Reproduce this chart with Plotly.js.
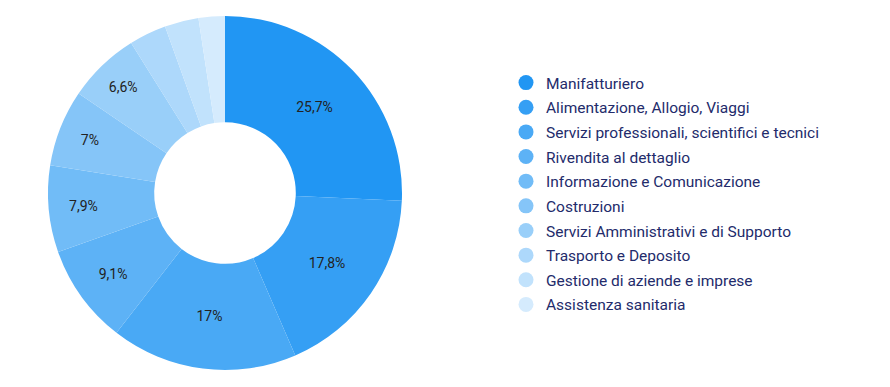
<!DOCTYPE html>
<html><head><meta charset="utf-8">
<script src="https://cdn.plot.ly/plotly-3.0.1.min.js"></script>
<style>html,body{margin:0;padding:0;background:#fff}#chart{width:890px;height:387px}</style>
</head><body><div id="chart"></div>
<script>
const categories = [
  "Manifatturiero",
  "Alimentazione, Allogio, Viaggi",
  "Servizi professionali, scientifici e tecnici",
  "Rivendita al dettaglio",
  "Informazione e Comunicazione",
  "Costruzioni",
  "Servizi Amministrativi e di Supporto",
  "Trasporto e Deposito",
  "Gestione di aziende e imprese",
  "Assistenza sanitaria"
];
const shares = [25.7, 17.8, 17, 9.1, 7.9, 7, 6.6, 3.4, 3.1, 2.4];
const showLabel = [true, true, true, true, true, true, true, false, false, false];
const colors = ["#2196F3","#359FF4","#49A9F5","#5DB2F6","#71BCF7","#85C5F8","#99CFF9","#ADD8FB","#C1E2FC","#D5EBFD"];

const pie = {
  type: 'pie',
  labels: categories,
  values: shares,
  hole: 0.4,
  sort: false,
  direction: 'clockwise',
  rotation: 0,
  marker: {colors: colors, line: {width: 0}},
  texttemplate: showLabel.map(s => s ? '%{value}%' : ''),
  textposition: 'inside',
  insidetextorientation: 'horizontal',
  textfont: {family: 'Roboto', size: 14, color: '#222222'},
  hoverinfo: 'label+percent',
  showlegend: false,
  domain: {x: [48/890, 402/890], y: [(387-370)/387, (387-16)/387]}
};

const legendTraces = categories.map((c, i) => ({
  type: 'scatter', mode: 'markers', x: [null], y: [null], name: c,
  legendgroup: 'g' + i,
  marker: {symbol: 'circle', size: 15, color: colors[i]},
  showlegend: true, hoverinfo: 'skip'
}));

const layout = {
  width: 890, height: 387,
  margin: {l: 0, r: 0, t: 0, b: 0},
  paper_bgcolor: '#ffffff', plot_bgcolor: 'rgba(0,0,0,0)',
  separators: ',.',
  xaxis: {visible: false, domain: [0.6, 0.61]},
  yaxis: {visible: false, domain: [0.5, 0.51]},
  showlegend: true,
  legend: {
    x: 506/890, y: 1 - 66/387, xanchor: 'left', yanchor: 'top',
    font: {family: 'Roboto', size: 15.5, color: '#232B6B'},
    itemwidth: 30, tracegroupgap: 1.5, bgcolor: 'rgba(0,0,0,0)'
  }
};

Plotly.newPlot('chart', [pie, ...legendTraces], layout, {displayModeBar: false, staticPlot: true});
</script></body></html>
